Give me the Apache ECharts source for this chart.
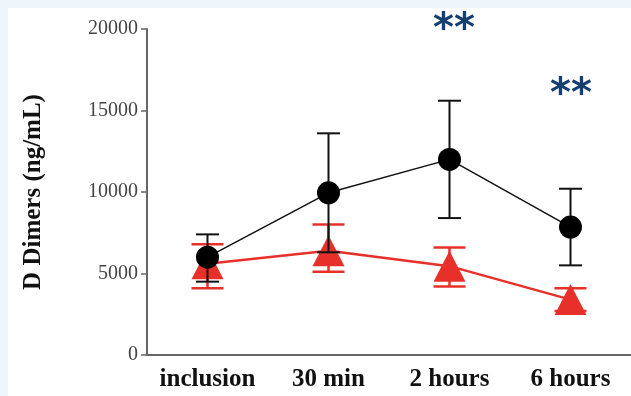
<!DOCTYPE html>
<html><head><meta charset="utf-8">
<script src="https://cdn.jsdelivr.net/npm/echarts@6/dist/echarts.min.js"></script>
<style>html,body{margin:0;padding:0;background:#fff}#c{width:631px;height:396px}</style>
</head><body><div id="c"></div>
<script>
const categories = ['inclusion', '30 min', '2 hours', '6 hours'];
const blackMean = [6000, 9950, 12000, 7850];
const blackLow  = [4500, 6300, 8400, 5500];
const blackHigh = [7400, 13600, 15600, 10200];
const redMean = [5600, 6400, 5450, 3400];
const redLow  = [4100, 5100, 4200, 2700];
const redHigh = [6800, 8000, 6600, 4100];
const yName = 'D Dimers (ng/mL)';
const starText = '**';

function errRender(color, capW, lw) {
  return function (params, api) {
    const x = api.value(0), lo = api.value(1), hi = api.value(2);
    const pLo = api.coord([x, lo]), pHi = api.coord([x, hi]);
    const h = capW / 2;
    const st = { stroke: color, lineWidth: lw };
    return { type: 'group', children: [
      { type: 'line', shape: { x1: pLo[0], y1: pLo[1], x2: pHi[0], y2: pHi[1] }, style: st },
      { type: 'line', shape: { x1: pLo[0] - h, y1: pLo[1], x2: pLo[0] + h, y2: pLo[1] }, style: st },
      { type: 'line', shape: { x1: pHi[0] - h, y1: pHi[1], x2: pHi[0] + h, y2: pHi[1] }, style: st }
    ]};
  };
}

const chart = echarts.init(document.getElementById('c'), null, { renderer: 'canvas' });
chart.setOption({
  backgroundColor: '#ffffff',
  animation: false,
  grid: { left: 147, top: 29, width: 488, height: 326 },
  graphic: [
    { type: 'rect', shape: { x: 0, y: 0, width: 631, height: 8 }, style: { fill: '#eef5fb' }, z: -1 },
    { type: 'rect', shape: { x: 0, y: 0, width: 8, height: 396 }, style: { fill: '#eef5fb' }, z: -1 },
    { type: 'text', x: 454, y: 31, style: { text: starText, font: 'bold 40px "DejaVu Sans"', fill: '#143f70', textAlign: 'center', textVerticalAlign: 'middle' } },
    { type: 'text', x: 571, y: 96, style: { text: starText, font: 'bold 40px "DejaVu Sans"', fill: '#143f70', textAlign: 'center', textVerticalAlign: 'middle' } }
  ],
  xAxis: {
    type: 'category', data: categories, boundaryGap: true,
    axisLine: { lineStyle: { color: '#666', width: 2 } },
    axisTick: { alignWithLabel: true, length: 7, lineStyle: { color: '#555', width: 1 } },
    axisLabel: { interval: 0, fontFamily: 'Liberation Serif', fontWeight: 'bold', fontSize: 25, color: '#111', margin: 12 }
  },
  yAxis: {
    type: 'value', min: 0, max: 20000, interval: 5000,
    name: yName, nameLocation: 'middle', nameGap: 101,
    nameTextStyle: { fontFamily: 'Liberation Serif', fontWeight: 'bold', fontSize: 25, color: '#111' },
    axisLine: { show: true, lineStyle: { color: '#666', width: 2 } },
    axisTick: { show: true, length: 6, lineStyle: { color: '#666', width: 1.5 } },
    splitLine: { show: false },
    axisLabel: { fontFamily: 'Liberation Serif', fontSize: 20, color: '#444', margin: 9,
      formatter: function (v) { return String(v); } }
  },
  series: [
    { type: 'custom', renderItem: errRender('#e8302a', 32, 2.5), z: 2,
      data: categories.map((c, i) => [i, redLow[i], redHigh[i]]) },
    { type: 'line', data: redMean, z: 3, symbol: 'triangle', symbolSize: [32, 31],
      lineStyle: { color: '#e8302a', width: 2.5 }, itemStyle: { color: '#e8302a' } },
    { type: 'custom', renderItem: errRender('#111', 23, 2), z: 4,
      data: categories.map((c, i) => [i, blackLow[i], blackHigh[i]]) },
    { type: 'line', data: blackMean, z: 5, symbol: 'circle', symbolSize: 23,
      lineStyle: { color: '#111', width: 1.5 }, itemStyle: { color: '#000' } }
  ]
});
</script>
</body></html>
